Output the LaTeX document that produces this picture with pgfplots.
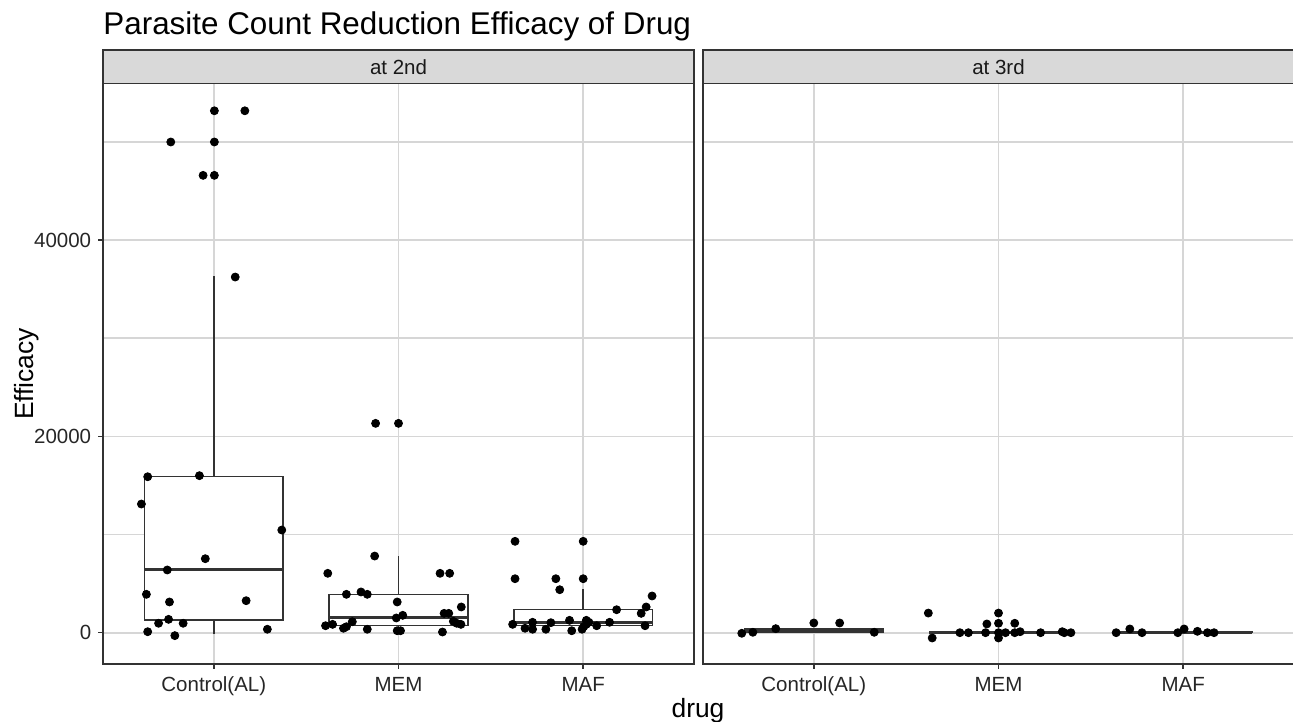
\documentclass[border=0pt]{standalone}
\usepackage{fontspec}
\setmainfont{Liberation Sans}
\usepackage{pgfplots}
\pgfplotsset{compat=1.18}

\definecolor{grey20}{HTML}{333333}
\definecolor{gridc}{HTML}{D6D6D6}
\definecolor{stripc}{HTML}{D9D9D9}
\definecolor{tickc}{HTML}{262626}

\pgfplotsset{
  panel/.style={
    scale only axis, width=295.5bp, height=290.25bp,
    anchor=south west,
    xmin=0.4, xmax=3.6, ymin=-3190, ymax=55960,
    xtick={1,2,3}, xticklabels={Control(AL),MEM,MAF},
    ytick={0,20000,40000}, minor ytick={10000,30000,50000},
    scaled y ticks=false,
    grid=both,
    major grid style={gridc, line width=0.9bp},
    minor grid style={gridc, line width=0.8bp},
    axis line style={grey20, line width=0.8bp},
    tick style={grey20, line width=0.8bp},
    tick align=outside, major tick length=2.4bp, minor tick length=0pt,
    xtick pos=left, ytick pos=left,
    tick label style={font=\fontsize{10.25bp}{12bp}\selectfont, text=tickc},
    xticklabel style={text height=7.6bp, text depth=2.2bp},
    /pgf/number format/assume math mode=true,
    /pgf/number format/1000 sep={},
    clip=false,
  },
  box/.style={draw=grey20, line width=0.75bp, fill=white, mark=none},
  med/.style={draw=grey20, line width=1.5bp, mark=none},
  wsk/.style={draw=grey20, line width=0.75bp, mark=none},
  pts/.style={only marks, mark=*, mark size=2bp, black},
}

\newcommand{\strip}[1]{%
  \draw[grey20, line width=0.8bp, fill=stripc] (rel axis cs:0,1) rectangle (rel axis cs:1,1.0577);
  \node[font=\fontsize{10.25bp}{12bp}\selectfont, text=black!90] at (rel axis cs:0.5,1.02885) {#1};
}

\begin{document}
\begin{tikzpicture}
\useasboundingbox (0,0) rectangle (646.5bp,361bp);

% ---- at 2nd ----
\begin{axis}[panel, at={(51.5bp,29bp)}]
% whiskers
\addplot[wsk] coordinates {(1,15890) (1,36300)};
\addplot[wsk] coordinates {(1,1290) (1,-150)};
\addplot[wsk] coordinates {(2,3910) (2,7850)};
\addplot[wsk] coordinates {(2,710) (2,100)};
\addplot[wsk] coordinates {(3,2340) (3,4420)};
\addplot[wsk] coordinates {(3,710) (3,200)};
% boxes (lower quartile, upper quartile)
\addplot[box] coordinates {(0.625,1290) (1.375,1290) (1.375,15890) (0.625,15890)} -- cycle;
\addplot[box] coordinates {(1.625,710) (2.375,710) (2.375,3910) (1.625,3910)} -- cycle;
\addplot[box] coordinates {(2.625,710) (3.375,710) (3.375,2340) (2.625,2340)} -- cycle;
% medians
\addplot[med] coordinates {(0.625,6460) (1.375,6460)};
\addplot[med] coordinates {(1.625,1570) (2.375,1570)};
\addplot[med] coordinates {(2.625,1020) (3.375,1020)};
% Control(AL)
\addplot[pts] coordinates {
 (1.003,53180) (1.168,53180) (0.767,50000) (1.003,50000) (0.942,46600)
 (1.003,46600) (1.116,36240) (0.642,15890) (0.922,16000) (0.608,13110)
 (1.368,10460) (0.954,7540) (0.748,6390) (0.635,3910) (0.760,3130)
 (1.175,3260) (0.701,960) (0.755,1360) (0.834,960) (0.642,100)
 (0.789,-300) (1.290,350)
};
% MEM
\addplot[pts] coordinates {
 (1.876,21330) (2.000,21330) (1.871,7810) (1.617,6050) (1.718,3910)
 (1.797,4150) (1.831,3910) (1.993,3130) (1.988,1500) (1.605,710)
 (1.643,850) (1.702,450) (1.718,610) (1.750,1120) (1.831,350)
 (1.993,200) (2.023,1770) (2.011,200) (2.225,6050) (2.277,6050)
 (2.247,1970) (2.272,1970) (2.340,2620) (2.297,1160) (2.315,960)
 (2.338,850) (2.238,70)
};
% MAF
\addplot[pts] coordinates {
 (2.631,9310) (3.000,9310) (2.631,5500) (2.852,5500) (3.000,5500)
 (2.873,4380) (3.373,3740) (3.341,2620) (3.314,1970) (3.181,2340)
 (2.618,850) (2.685,450) (2.726,1060) (2.726,350) (2.798,350)
 (2.825,1020) (2.926,1260) (2.938,200) (2.994,350) (3.017,1260)
 (3.031,1060) (3.017,850) (3.073,710) (3.143,1060) (3.335,710)
 (3.003,610)
};
\strip{at 2nd}
\end{axis}

% ---- at 3rd ----
\begin{axis}[panel, at={(351.5bp,29bp)}, yticklabels={}, every y tick/.append style={draw=none}]
\addplot[box] coordinates {(0.625,80) (1.375,80) (1.375,380) (0.625,380)} -- cycle;
\addplot[box] coordinates {(1.625,20) (2.375,20) (2.375,110) (1.625,110)} -- cycle;
\addplot[box] coordinates {(2.625,0) (3.375,0) (3.375,80) (2.625,80)} -- cycle;
\addplot[med] coordinates {(0.625,250) (1.375,250)};
\addplot[med] coordinates {(1.625,60) (2.375,60)};
\addplot[med] coordinates {(2.625,30) (3.375,30)};
\addplot[pts] coordinates {
 (0.610,-60) (0.670,40) (0.794,410) (1.000,990) (1.140,990) (1.327,40)
};
\addplot[pts] coordinates {
 (1.620,2000) (1.641,-540) (1.791,0) (1.837,0) (1.930,0) (1.937,890)
 (2.000,2000) (2.000,960) (2.000,0) (2.000,-540) (2.038,0) (2.088,960)
 (2.088,0) (2.117,100) (2.228,0) (2.345,100) (2.356,0) (2.392,0)
};
\addplot[pts] coordinates {
 (2.637,0) (2.711,380) (2.777,0) (2.971,0) (3.005,380) (3.077,140)
 (3.131,0) (3.167,0)
};
\strip{at 3rd}
\end{axis}

\node[anchor=base west, inner sep=0pt, font=\fontsize{15.7bp}{18bp}\selectfont] at (51.5bp,343.5bp) {Parasite Count Reduction Efficacy of Drug};
\node[anchor=base, inner sep=0pt, font=\fontsize{13.2bp}{15bp}\selectfont] at (349bp,2.5bp) {drug};
\node[anchor=base, inner sep=0pt, rotate=90, font=\fontsize{13.2bp}{15bp}\selectfont] at (16.65bp,174bp) {Efficacy};
\end{tikzpicture}
\end{document}
